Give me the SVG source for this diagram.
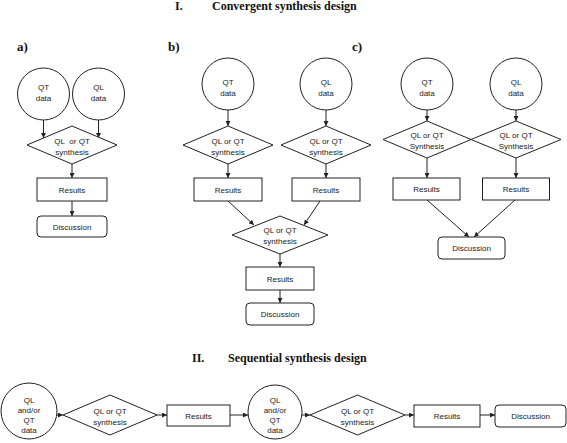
<svg xmlns="http://www.w3.org/2000/svg" width="567" height="443" viewBox="0 0 567 443">
<defs>
<style>
.n{fill:#fff;stroke:#222;stroke-width:1}
.t{font-family:"Liberation Sans",Arial,sans-serif;font-size:8px;fill:#222;text-anchor:middle}
.h{font-family:"Liberation Serif","Times New Roman",serif;font-weight:bold;font-size:12px;fill:#111}
.l{font-family:"Liberation Serif","Times New Roman",serif;font-weight:bold;font-size:13px;fill:#111}
.c{stroke:#222;stroke-width:1;fill:none;marker-end:url(#ah)}
</style>
<marker id="ah" viewBox="0 0 8 8" markerWidth="5" markerHeight="5" refX="8" refY="4" orient="auto" markerUnits="userSpaceOnUse">
<path d="M0,0 L8,4 L0,8 z" fill="#222"/>
</marker>
</defs>
<rect width="567" height="443" fill="#fff"/>
<g id="titles">
<text class="h" x="175" y="10">I.</text>
<text class="h" x="212" y="10">Convergent synthesis design</text>
<text class="h" x="192" y="362">II.</text>
<text class="h" x="228" y="362">Sequential synthesis design</text>
<text class="l" x="17" y="51">a)</text>
<text class="l" x="168" y="51">b)</text>
<text class="l" x="352" y="51">c)</text>
</g>
<g id="connectors">
<path class="c" d="M43.5,120 V138"/>
<path class="c" d="M98.5,120 V138"/>
<path class="c" d="M72,164 V178"/>
<path class="c" d="M72,201 V216"/>
<path class="c" d="M228,110 V126"/>
<path class="c" d="M326,110 V126"/>
<path class="c" d="M228,164 V178"/>
<path class="c" d="M326,164 V178"/>
<path class="c" d="M228,201 L254,225"/>
<path class="c" d="M320,201 L304,225"/>
<path class="c" d="M280,254 V267"/>
<path class="c" d="M280,290 V303"/>
<path class="c" d="M427,110 V121"/>
<path class="c" d="M516,110 V121"/>
<path class="c" d="M427,158 V178"/>
<path class="c" d="M516,158 V178"/>
<path class="c" d="M427,200 L469,237"/>
<path class="c" d="M515,200 L474,237"/>
<path class="c" d="M57,415 H63"/>
<path class="c" d="M157,415 H167"/>
<path class="c" d="M230,415 H248"/>
<path class="c" d="M302,415 H310"/>
<path class="c" d="M405,415 H414"/>
<path class="c" d="M480,415 H495"/>
</g>
<g id="a-qt"><circle class="n" cx="43.5" cy="94" r="26"/><text class="t" x="43.5" y="90">QT</text><text class="t" x="43.5" y="100.5">data</text></g>
<g id="a-ql"><circle class="n" cx="98.5" cy="94" r="26"/><text class="t" x="98.5" y="90">QL</text><text class="t" x="98.5" y="100.5">data</text></g>
<g id="a-syn"><polygon class="n" points="72,126 117,145 72,164 27,145"/><text class="t" x="72" y="144">QL&#160; or QT</text><text class="t" x="72" y="155">synthesis</text></g>
<g id="a-res"><rect class="n" x="37" y="178" width="70" height="23"/><text class="t" x="72" y="192.5">Results</text></g>
<g id="a-dis"><rect class="n" x="37" y="216" width="70" height="21" rx="4"/><text class="t" x="72" y="229.5">Discussion</text></g>

<g id="b-qt"><circle class="n" cx="228" cy="84" r="26"/><text class="t" x="228" y="85">QT</text><text class="t" x="228" y="95.5">data</text></g>
<g id="b-ql"><circle class="n" cx="326" cy="84" r="26"/><text class="t" x="326" y="85">QL</text><text class="t" x="326" y="95.5">data</text></g>
<g id="b-syn1"><polygon class="n" points="228,126 273,145 228,164 183,145"/><text class="t" x="228" y="144">QL or QT</text><text class="t" x="228" y="155">synthesis</text></g>
<g id="b-syn2"><polygon class="n" points="326,126 371,145 326,164 281,145"/><text class="t" x="326" y="144">QL or QT</text><text class="t" x="326" y="155">synthesis</text></g>
<g id="b-res1"><rect class="n" x="194" y="178" width="68" height="23"/><text class="t" x="228" y="192.5">Results</text></g>
<g id="b-res2"><rect class="n" x="292" y="178" width="68" height="23"/><text class="t" x="326" y="192.5">Results</text></g>
<g id="b-syn3"><polygon class="n" points="280,216 328,235 280,254 232,235"/><text class="t" x="280" y="233">QL or QT</text><text class="t" x="280" y="244">synthesis</text></g>
<g id="b-res3"><rect class="n" x="246" y="267" width="68" height="23"/><text class="t" x="280" y="281.5">Results</text></g>
<g id="b-dis"><rect class="n" x="246" y="303" width="68" height="22" rx="4"/><text class="t" x="280" y="317">Discussion</text></g>

<g id="c-qt"><circle class="n" cx="427" cy="84" r="26"/><text class="t" x="427" y="85">QT</text><text class="t" x="427" y="95.5">data</text></g>
<g id="c-ql"><circle class="n" cx="516" cy="84" r="26"/><text class="t" x="516" y="85">QL</text><text class="t" x="516" y="95.5">data</text></g>
<g id="c-syn1"><polygon class="n" points="427,121 471,139.5 427,158 383,139.5"/><text class="t" x="427" y="138">QL or QT</text><text class="t" x="427" y="149">Synthesis</text></g>
<g id="c-syn2"><polygon class="n" points="516,121 561,139.5 516,158 471,139.5"/><text class="t" x="516" y="138">QL or QT</text><text class="t" x="516" y="149">Synthesis</text></g>
<g id="c-res1"><rect class="n" x="393" y="178" width="67" height="22"/><text class="t" x="426.5" y="192">Results</text></g>
<g id="c-res2"><rect class="n" x="482.5" y="178" width="67" height="22"/><text class="t" x="516" y="192">Results</text></g>
<g id="c-dis"><rect class="n" x="438" y="237" width="67" height="22" rx="4"/><text class="t" x="471.5" y="251">Discussion</text></g>

<g id="s-data1"><circle class="n" cx="29" cy="411" r="28"/><text class="t" x="29" y="402.5">QL</text><text class="t" x="29" y="412.5">and/or</text><text class="t" x="29" y="422.5">QT</text><text class="t" x="29" y="432.5">data</text></g>
<g id="s-syn1"><polygon class="n" points="110,395 157,415 110,435 63,415"/><text class="t" x="110" y="414">QL or QT</text><text class="t" x="110" y="425">synthesis</text></g>
<g id="s-res1"><rect class="n" x="167" y="405" width="63" height="21"/><text class="t" x="198.5" y="418.5">Results</text></g>
<g id="s-data2"><circle class="n" cx="275" cy="412" r="27"/><text class="t" x="275" y="403">QL</text><text class="t" x="275" y="413">and/or</text><text class="t" x="275" y="423">QT</text><text class="t" x="275" y="433">data</text></g>
<g id="s-syn2"><polygon class="n" points="357.5,395 405,415 357.5,435 310,415"/><text class="t" x="357.5" y="414">QL or QT</text><text class="t" x="357.5" y="425">synthesis</text></g>
<g id="s-res2"><rect class="n" x="414" y="405" width="66" height="22"/><text class="t" x="447" y="419">Results</text></g>
<g id="s-dis"><rect class="n" x="495" y="405" width="71" height="22" rx="4"/><text class="t" x="530.5" y="419">Discussion</text></g>
</svg>
